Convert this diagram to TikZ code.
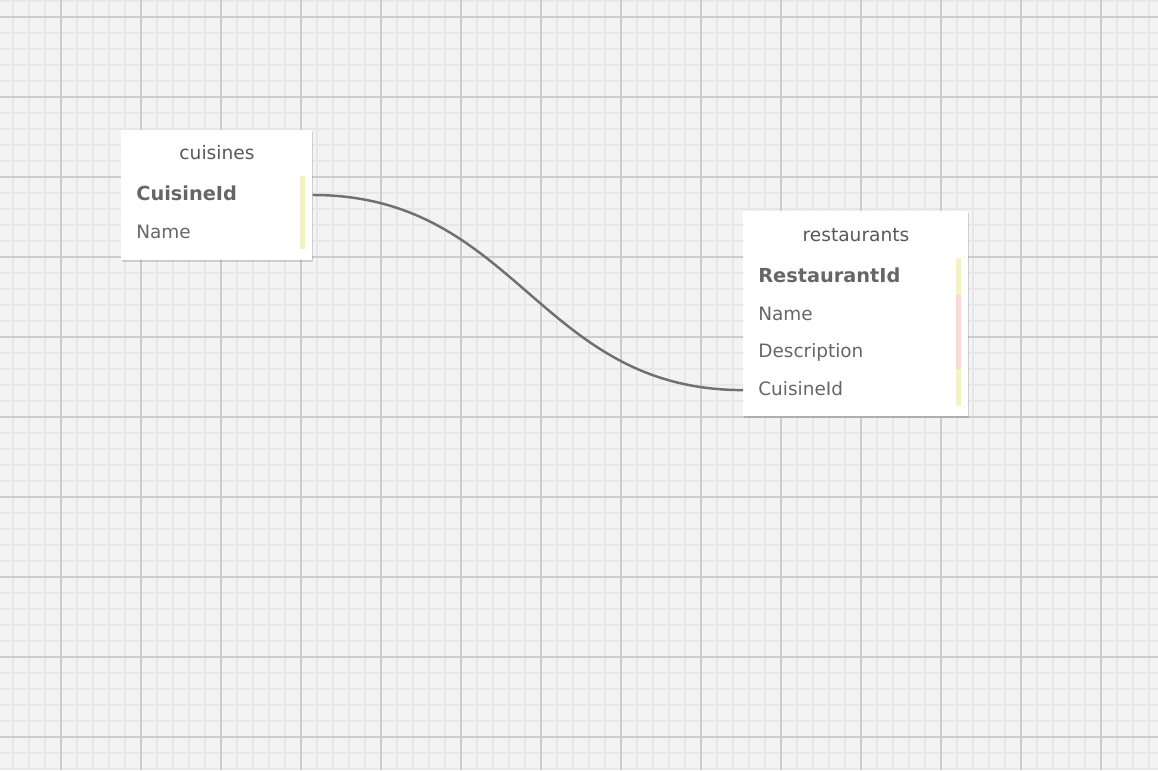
\documentclass[tikz,border=0pt]{standalone}
\usepackage{fontspec}
\setmainfont{DejaVu Sans}
\usepackage{tikz}
\usetikzlibrary{positioning}
\usetikzlibrary{shadows}

\definecolor{paper}{HTML}{F3F3F3}
\definecolor{minorline}{HTML}{E7E7E7}
\definecolor{majorline}{HTML}{CDCDCD}
\definecolor{textgray}{HTML}{666666}
\definecolor{titlegray}{HTML}{595959}
\definecolor{linkgray}{HTML}{707070}
\definecolor{keyyellow}{HTML}{F2F2C6}
\definecolor{fieldpink}{HTML}{F9D8D6}

\begin{document}
\begin{tikzpicture}
		[x=0.02cm, y=-0.02cm,
		table/.style={fill=white, anchor=north west, inner sep=0pt,
			drop shadow={shadow xshift=0.3pt, shadow yshift=-0.7pt, opacity=0.15, fill=black}},
		title/.style={text=titlegray, font=\fontsize{10.6}{12}\selectfont},
		field/.style={text=textgray, inner xsep=0pt, inner ysep=0pt, minimum height=0.74cm,
			text height=1.5ex, text depth=0.35ex, font=\fontsize{10.5}{12}\selectfont},
		key/.style={field, font=\fontsize{11}{12}\selectfont\bfseries},
		link/.style={draw=linkgray, line width=1.4pt}]
		\useasboundingbox (0,0) rectangle (1158,770);
		\fill[paper] (0,0) rectangle (1158,770);
		\foreach \x in {13,29,...,1158} \draw[minorline, line width=0.6pt] (\x,0) -- (\x,770);
		\foreach \y in {1,17,...,770} \draw[minorline, line width=0.6pt] (0,\y) -- (1158,\y);
		\foreach \x in {61,141,...,1158} \draw[majorline, line width=0.8pt] (\x,0) -- (\x,770);
		\foreach \y in {17,97,...,770} \draw[majorline, line width=0.8pt] (0,\y) -- (1158,\y);

		\node[table, minimum width=3.82cm, minimum height=2.6cm] (cuisines) at (121,130) {};
		\node[title] (cuisines-title) at (217,153) {cuisines};
		\node[key, anchor=west] (cuisineid) at (136,195) {CuisineId};
		\node[field, below=0pt of cuisineid.south west, anchor=north west] (c-name) {Name};
		\fill[keyyellow] (300,176) rectangle (305,249);

		\node[table, minimum width=4.5cm, minimum height=4.1cm] (restaurants) at (743,211) {};
		\node[title] (restaurants-title) at (856,235) {restaurants};
		\node[key, anchor=west] (restaurantid) at (758,277) {RestaurantId};
		\node[field, below=0pt of restaurantid.south west, anchor=north west] (r-name) {Name};
		\node[field, below=0pt of r-name.south west, anchor=north west] (r-description) {Description};
		\node[field, below=0pt of r-description.south west, anchor=north west] (r-cuisineid) {CuisineId};
		\fill[keyyellow] (956,258) rectangle (961,295);
		\fill[fieldpink] (956,295) rectangle (961,369);
		\fill[keyyellow] (956,369) rectangle (961,406);

		\draw[link] (cuisines.east |- cuisineid) .. controls +(205,0) and +(-205,0) .. (restaurants.west |- r-cuisineid);
	\end{tikzpicture}
\end{document}
